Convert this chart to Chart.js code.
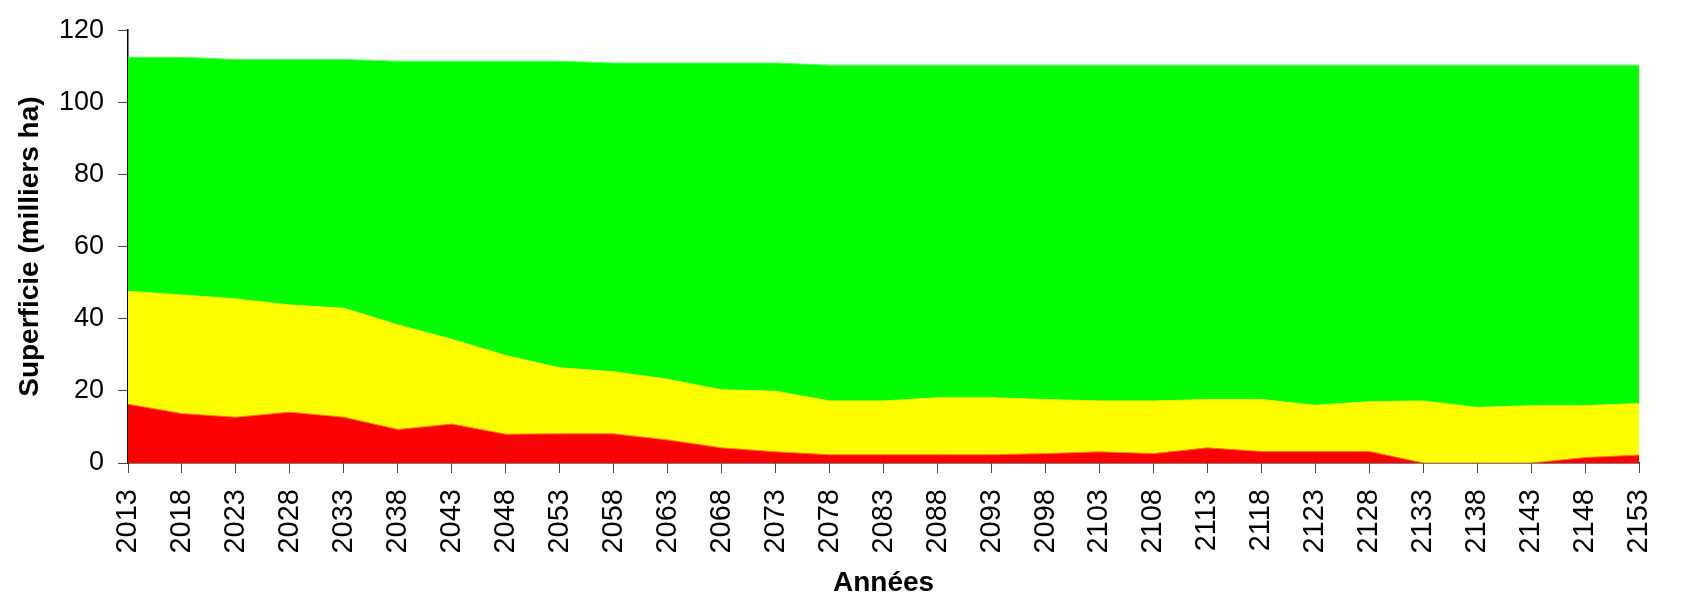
<!DOCTYPE html>
<html>
<head>
<meta charset="utf-8">
<script src="https://cdn.jsdelivr.net/npm/chart.js@4"></script>
<style>
  html, body { margin: 0; padding: 0; background: #fff; }
  #wrap { width: 1690px; height: 600px; }
</style>
</head>
<body>
<div id="wrap"><canvas id="chart" width="1690" height="600"></canvas></div>
<script>
// ─── Data ─────────────────────────────────────────────────────────────────────

const years = [
  2013, 2018, 2023, 2028, 2033, 2038, 2043, 2048, 2053, 2058,
  2063, 2068, 2073, 2078, 2083, 2088, 2093, 2098, 2103, 2108,
  2113, 2118, 2123, 2128, 2133, 2138, 2143, 2148, 2153,
];

// band thicknesses (milliers ha), stacked bottom to top
const red = [
  16.3, 13.7, 12.7, 14.1, 12.7, 9.3, 10.8, 8.0, 8.1, 8.1,
  6.4, 4.2, 3.1, 2.3, 2.3, 2.3, 2.3, 2.6, 3.1, 2.6,
  4.2, 3.2, 3.2, 3.2, 0, 0, 0, 1.5, 2.2,
];
const yellow = [
  31.3, 32.9, 32.8, 29.7, 30.2, 29.0, 23.5, 21.8, 18.3, 17.2,
  16.8, 16.1, 16.8, 14.9, 14.9, 15.8, 15.8, 15.0, 14.1, 14.6,
  13.4, 14.4, 12.8, 13.8, 17.2, 15.4, 15.9, 14.4, 14.3,
];
const green = [
  64.9, 65.9, 66.4, 68.1, 69.0, 73.1, 77.1, 81.6, 85.0, 85.6,
  87.7, 90.6, 91.0, 93.1, 93.1, 92.2, 92.2, 92.7, 93.1, 93.1,
  92.7, 92.7, 94.3, 93.3, 93.1, 94.9, 94.4, 94.4, 93.8,
];

const yTicks = [0, 20, 40, 60, 80, 100, 120];

// ─── Chart ────────────────────────────────────────────────────────────────────

const FONT = '"Liberation Sans", Arial, sans-serif';

const band = (data, color, border, fill) => ({
  data,
  backgroundColor: color,
  borderColor: border,
  borderWidth: 1,
  pointRadius: 0,
  tension: 0,
  fill,
});

new Chart(document.getElementById('chart'), {
  type: 'line',
  data: {
    labels: years.map(String),
    datasets: [
      band(red, '#ff0000', '#ff7a00', 'origin'),
      band(yellow, '#ffff00', '#f2ee00', '-1'),
      band(green, '#00ff00', '#55ff55', '-1'),
    ],
  },
  options: {
    responsive: false,
    animation: false,
    layout: { autoPadding: false, padding: { top: 20, right: 21, left: 0, bottom: 0 } },
    plugins: {
      legend: { display: false },
      tooltip: { enabled: false },
    },
    scales: {
      x: {
        offset: false,
        afterFit: (s) => { s.height = 137; },
        border: { display: true, color: '#000', width: 1.5 },
        grid: { display: true, drawOnChartArea: false, drawTicks: true, tickLength: 10, color: '#444' },
        ticks: {
          color: '#000',
          font: { family: FONT, size: 29 },
          minRotation: 90,
          maxRotation: 90,
          padding: 16,
          autoSkip: false,
        },
        title: {
          display: true,
          text: 'Années',
          color: '#000',
          font: { family: FONT, size: 28, weight: 'bold' },
          padding: { top: 0, bottom: 0 },
        },
      },
      y: {
        stacked: true,
        min: yTicks[0],
        max: yTicks[yTicks.length - 1],
        afterFit: (s) => { s.width = 128; },
        afterBuildTicks: (s) => { s.ticks = yTicks.map((v) => ({ value: v })); },
        border: { display: true, color: '#000', width: 1.5 },
        grid: { display: true, drawOnChartArea: false, drawTicks: true, tickLength: 10, color: '#444' },
        ticks: {
          color: '#000',
          font: { family: FONT, size: 27 },
          padding: 14,
        },
        title: {
          display: true,
          text: 'Superficie (milliers ha)',
          color: '#000',
          font: { family: FONT, size: 28, weight: 'bold' },
          padding: { top: 13, bottom: 0 },
        },
      },
    },
  },
});
</script>
</body>
</html>
